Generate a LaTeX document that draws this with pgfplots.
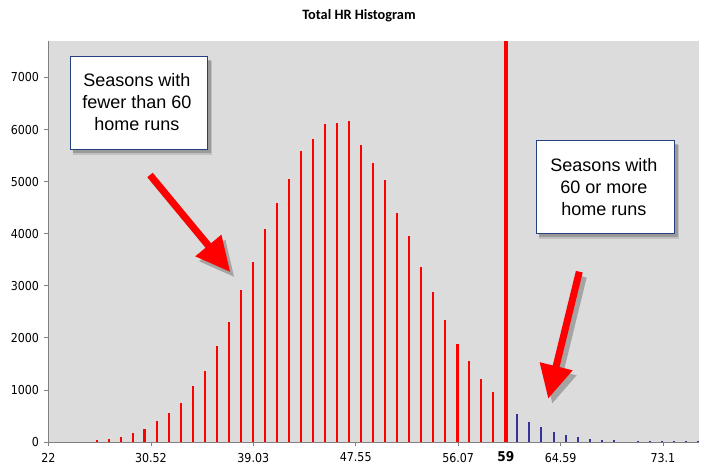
\documentclass[border=0pt]{standalone}
\usepackage{fontspec}
\setmainfont{Liberation Sans}
\newfontfamily\tickfont{DejaVu Sans Condensed}
\newfontfamily\titlefont{Carlito}
\usepackage{pgfplots}
\pgfplotsset{compat=1.18}
\definecolor{plotbg}{RGB}{220,220,220}
\definecolor{axisgray}{RGB}{128,128,128}
\definecolor{barblue}{RGB}{51,51,153}
\definecolor{boxblue}{RGB}{36,64,128}
\pgfplotstableread{
x y
26 40
27 63
28 100
29 166
31 410
32 563
33 755
34 1080
35 1363
36 1843
37 2309
38 2917
39 3455
40 4088
41 4581
42 5048
43 5592
44 5816
45 6104
46 6123
47 6161
48 5701
49 5361
50 5029
51 4402
52 3954
53 3365
54 2879
55 2342
57 1555
58 1215
59 960
}\redbars
\pgfplotstableread{
x y
30 255
56 1881
}\redthick
\pgfplotstableread{
x y
61 530
62 389
63 293
64 197
65 140
66 96
67 58
68 38
69 30
71 20
72 18
73 15
74 15
75 12
76 12
}\bluebars
\begin{document}
\begin{tikzpicture}
\path[use as bounding box] (0,0) rectangle (709bp,474bp);
\begin{axis}[
  at={(48.5bp,32bp)}, anchor=south west,
  scale only axis, width=650.5bp, height=401bp,
  xmin=22, xmax=76.1, ymin=0, ymax=7700,
  axis lines*=left,
  axis line style={draw=axisgray, line width=0.8bp},
  axis background/.style={fill=plotbg},
  xtick={22,30.52,39.03,47.55,56.07,64.59,73.1},
  xticklabels={22,30.52,39.03,47.55,56.07,64.59,73.1},
  ytick={0,1000,2000,3000,4000,5000,6000,7000},
  tick align=outside, major tick length=4bp,
  tick style={draw=axisgray, line width=0.8bp},
  ticklabel style={font=\tickfont\fontsize{12.3bp}{14bp}\selectfont},
  /pgf/number format/assume math mode=true,
  scaled y ticks=false,
  y tick label style={/pgf/number format/1000 sep={}, xshift=-2bp},
  x tick label style={yshift=-3.5bp},
  extra x ticks={60.03}, extra x tick labels={59},
  extra x tick style={major tick length=0pt,
     xticklabel style={font=\tickfont\bfseries\fontsize{13.5bp}{15bp}\selectfont, yshift=-2.5bp}},
]
\addplot[ycomb, red, line width=2bp, mark=none] table {\redbars};
\addplot[ycomb, red, line width=3.5bp, mark=none] table {\redthick};
\addplot[ycomb, barblue, line width=2bp, mark=none] table {\bluebars};
\addplot[red, line width=4bp, mark=none] coordinates {(60.03,0) (60.03,7700)};
\end{axis}
\begin{scope}[x=1bp, y=-1bp, yshift=474bp]
  % title
  \node[font=\titlefont\bfseries\fontsize{14.3bp}{16bp}\selectfont] at (359,16) {Total HR Histogram};
  % box 1
  \fill[black, opacity=0.12] (73,61) rectangle (212,155);
  \fill[black, opacity=0.2] (73,60) rectangle (210.5,153);
  \draw[boxblue, line width=0.9bp, fill=white] (70,56.7) rectangle (207.3,149.3);
  \node[align=center, font=\fontsize{18bp}{22bp}\selectfont] at (137,102.5)
    {Seasons with\\fewer than 60\\home runs};
  % box 2
  \fill[black, opacity=0.12] (539,145) rectangle (679,239);
  \fill[black, opacity=0.2] (539,144) rectangle (677.5,237);
  \draw[boxblue, line width=0.9bp, fill=white] (536,140.7) rectangle (674,233.3);
  \node[align=center, font=\fontsize{18bp}{22bp}\selectfont] at (604,187.5)
    {Seasons with\\60 or more\\home runs};
  % arrow 1 shadow and arrow
  \begin{scope}[shift={(4,5)}]
  \fill[black, opacity=0.25] (152.70,172.77) -- (211.03,243.27) -- (221.43,234.66) -- (230,271.7)
     -- (195.23,256.34) -- (205.63,247.73) -- (147.30,177.23) -- cycle;
  \end{scope}
  \fill[red] (152.70,172.77) -- (211.03,243.27) -- (221.43,234.66) -- (230,271.7)
     -- (195.23,256.34) -- (205.63,247.73) -- (147.30,177.23) -- cycle;
  % arrow 2 shadow and arrow
  \begin{scope}[shift={(4,5)}]
  \fill[black, opacity=0.25] (582.70,272.53) -- (559.55,367.08) -- (572.66,370.29) -- (548.3,398.3)
     -- (539.64,362.21) -- (552.75,365.42) -- (575.90,270.87) -- cycle;
  \end{scope}
  \fill[red] (582.70,272.53) -- (559.55,367.08) -- (572.66,370.29) -- (548.3,398.3)
     -- (539.64,362.21) -- (552.75,365.42) -- (575.90,270.87) -- cycle;
\end{scope}
\end{tikzpicture}
\end{document}
